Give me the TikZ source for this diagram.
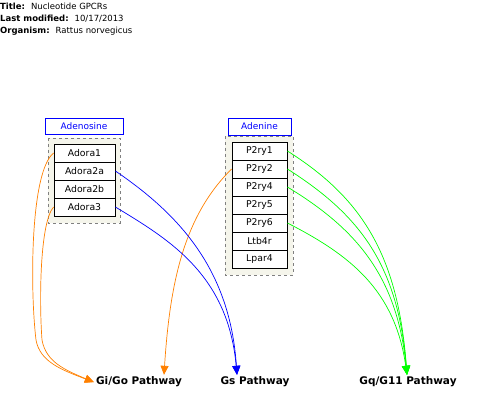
\documentclass[tikz,border=0pt]{standalone}
\usepackage{fontspec}
\setmainfont{DejaVu Sans}
\usetikzlibrary{arrows.meta}

\definecolor{grpfill}{RGB}{245,245,235}
\definecolor{pvorange}{RGB}{255,128,0}
\definecolor{pvgreen}{RGB}{0,255,0}

\begin{document}
\begin{tikzpicture}[x=1pt, y=-1pt,
    header/.style={anchor=base west, inner sep=0pt, font=\fontsize{8.5}{10}\selectfont},
    grouplabel/.style={draw=blue, text=blue, fill=white, line width=0.7pt, inner sep=0pt, font=\fontsize{9}{10}\selectfont},
    groupbox/.style={draw=gray, dashed, fill=grpfill, line width=0.6pt},
    gene/.style={draw, fill=white, line width=0.8pt, inner sep=0pt, minimum height=18pt, font=\fontsize{9.3}{10}\selectfont},
    pathway/.style={anchor=base, inner sep=2pt, font=\fontsize{10.5}{12}\selectfont\bfseries},
    link/.style={line width=0.7pt, -{Triangle[length=9pt, width=8pt]}}]
      \useasboundingbox (0,0) rectangle (480,403);

      \node[header] (title) at (0,9.5) {\textbf{Title:}\hspace{6pt}Nucleotide GPCRs};
      \node[header] (modified) at (0,21.5) {\textbf{Last modified:}\hspace{6pt}10/17/2013};
      \node[header] (organism) at (0,33.5) {\textbf{Organism:}\hspace{6pt}Rattus norvegicus};

      \draw[groupbox] (48,138) rectangle (120,223);
      \node[grouplabel, minimum width=78pt, minimum height=16pt] (adenosine) at (84,126) {Adenosine};
      \node[gene, minimum width=61pt] (adora1) at (84.5,153) {Adora1};
      \node[gene, minimum width=61pt] (adora2a) at (84.5,171) {Adora2a};
      \node[gene, minimum width=61pt] (adora2b) at (84.5,189) {Adora2b};
      \node[gene, minimum width=61pt] (adora3) at (84.5,207) {Adora3};

      \draw[groupbox] (225,136) rectangle (293,275);
      \node[grouplabel, minimum width=63pt, minimum height=17pt] (adenine) at (259.5,126.5) {Adenine};
      \node[gene, minimum width=55pt] (p2ry1) at (259.5,151) {P2ry1};
      \node[gene, minimum width=55pt] (p2ry2) at (259.5,169) {P2ry2};
      \node[gene, minimum width=55pt] (p2ry4) at (259.5,187) {P2ry4};
      \node[gene, minimum width=55pt] (p2ry5) at (259.5,205) {P2ry5};
      \node[gene, minimum width=55pt] (p2ry6) at (259.5,223) {P2ry6};
      \node[gene, minimum width=55pt] (ltb4r) at (259.5,241) {Ltb4r};
      \node[gene, minimum width=55pt] (lpar4) at (259.5,259) {Lpar4};

      \node[pathway] (gigo) at (139,385) {Gi/Go Pathway};
      \node[pathway] (gs) at (255,385) {Gs Pathway};
      \node[pathway] (gq) at (408,385) {Gq/G11 Pathway};

      \draw[link, color=pvorange] (adora1.west) .. controls (30,172) and (30,290) .. (36,340)
            .. controls (40,362) and (62,370) .. (gigo.west);
      \draw[link, color=pvorange] (adora3.west) .. controls (40,222) and (39,300) .. (42,340)
            .. controls (46,362) and (65,370) .. (gigo.west);
      \draw[link, color=pvorange] (p2ry2.west) .. controls (185,215) and (170,280) .. ([xshift=25pt]gigo.north);

      \draw[link, color=blue] (adora2a.east) .. controls (180,215) and (230,270) .. ([xshift=-18pt]gs.north);
      \draw[link, color=blue] (adora3.east) .. controls (170,240) and (228,275) .. ([xshift=-18pt]gs.north);

      \draw[link, color=pvgreen] (p2ry1.east) .. controls (362,198) and (398,255) .. ([xshift=-1pt]gq.north);
      \draw[link, color=pvgreen] (p2ry2.east) .. controls (360,215) and (398,265) .. ([xshift=-1pt]gq.north);
      \draw[link, color=pvgreen] (p2ry4.east) .. controls (355,228) and (397,275) .. ([xshift=-1pt]gq.north);
      \draw[link, color=pvgreen] (p2ry6.east) .. controls (350,255) and (395,290) .. ([xshift=-1pt]gq.north);
    \end{tikzpicture}
\end{document}
